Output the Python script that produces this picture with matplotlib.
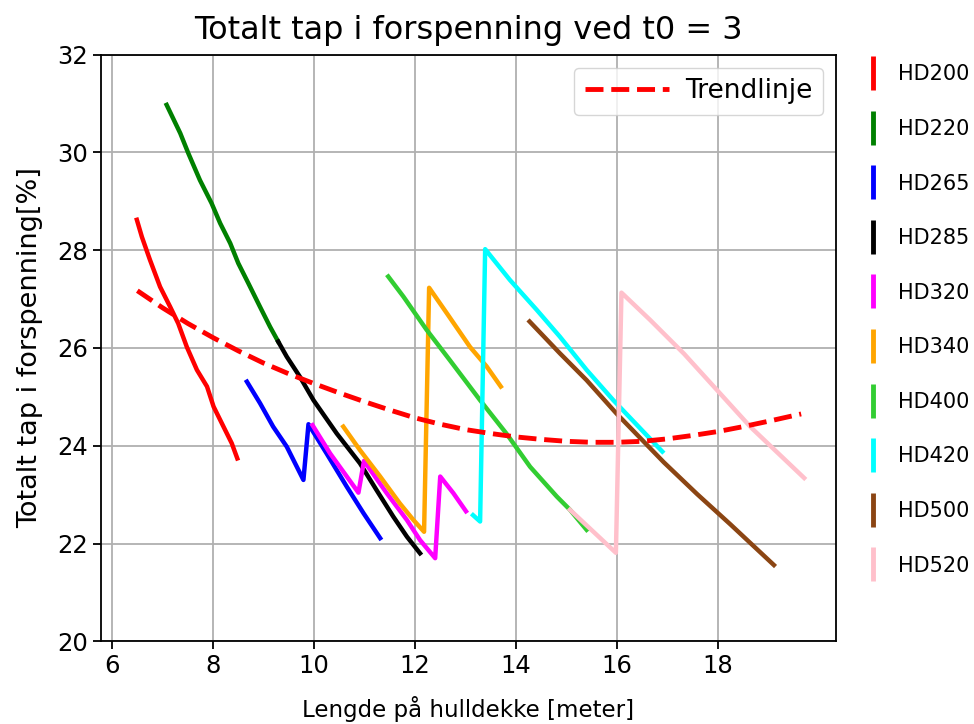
import matplotlib
matplotlib.use('Agg')
import matplotlib.pyplot as plt
from matplotlib.lines import Line2D


# lengths [m] and total prestress loss [%] per slab type
hd200_x = [6.49, 6.59, 6.75, 6.95, 7.15, 7.31, 7.48, 7.68, 7.88, 8.01, 8.24, 8.37, 8.48]
hd200_y = [28.62, 28.27, 27.80, 27.25, 26.84, 26.50, 26.02, 25.55, 25.21, 24.80, 24.32, 24.05, 23.74]

hd220_x = [7.08, 7.35, 7.51, 7.74, 7.97, 8.14, 8.34, 8.50, 8.70, 8.93, 9.13, 9.29]
hd220_y = [30.97, 30.39, 29.98, 29.43, 28.96, 28.55, 28.14, 27.73, 27.32, 26.84, 26.43, 26.13]

hd265_x = [8.67, 8.93, 9.19, 9.46, 9.79, 9.89, 10.25, 10.65, 10.98, 11.31]
hd265_y = [25.31, 24.87, 24.39, 23.98, 23.30, 24.44, 23.84, 23.16, 22.62, 22.11]

hd285_x = [9.29, 9.46, 9.72, 9.99, 10.45, 10.91, 11.24, 11.57, 11.84, 12.10]
hd285_y = [26.13, 25.82, 25.41, 24.93, 24.25, 23.64, 23.09, 22.55, 22.14, 21.80]

hd320_x = [9.97, 10.32, 10.88, 10.99, 11.44, 11.84, 12.10, 12.40, 12.50, 12.76, 13.01]
hd320_y = [24.42, 23.84, 23.04, 23.69, 23.03, 22.48, 22.07, 21.70, 23.37, 23.03, 22.66]

hd340_x = [10.58, 10.91, 11.31, 11.70, 11.97, 12.18, 12.28, 12.63, 13.09, 13.42, 13.70]
hd340_y = [24.39, 23.91, 23.37, 22.82, 22.48, 22.24, 27.23, 26.71, 26.02, 25.62, 25.21]

hd400_x = [11.47, 11.77, 12.23, 12.69, 13.29, 13.81, 14.28, 14.81, 15.07, 15.40]
hd400_y = [27.46, 27.05, 26.37, 25.75, 24.93, 24.25, 23.57, 22.96, 22.69, 22.28]

hd420_x = [13.15, 13.29, 13.39, 13.88, 14.41, 14.87, 15.40, 15.93, 16.90]
hd420_y = [22.58, 22.45, 28.02, 27.39, 26.78, 26.23, 25.55, 24.93, 23.88]

hd500_x = [14.27, 14.87, 15.40, 15.99, 16.93, 17.59, 18.25, 19.11]
hd500_y = [26.54, 25.89, 25.34, 24.66, 23.66, 23.01, 22.39, 21.56]

hd520_x = [15.07, 15.98, 16.09, 16.66, 17.33, 17.99, 18.65, 19.71]
hd520_y = [22.69, 21.81, 27.13, 26.57, 25.88, 25.13, 24.38, 23.34]

# trend line over all slabs
trend_x = [6.5, 7.0, 7.5, 8.0, 8.5, 9.0, 9.5, 10.0, 10.5, 11.0, 11.5, 12.0, 12.5, 13.0,
           13.5, 14.0, 14.5, 15.0, 15.5, 16.0, 16.5, 17.0, 17.5, 18.0, 18.5, 19.0, 19.65]
trend_y = [27.17, 26.82, 26.50, 26.21, 25.94, 25.69, 25.47, 25.27, 25.08, 24.90, 24.73, 24.57, 24.44, 24.33,
           24.25, 24.18, 24.13, 24.09, 24.07, 24.07, 24.09, 24.14, 24.21, 24.29, 24.39, 24.50, 24.65]

labels = ['HD200', 'HD220', 'HD265', 'HD285', 'HD320', 'HD340', 'HD400', 'HD420', 'HD500', 'HD520']
colors = ['red', 'green', 'blue', 'black', 'magenta', 'orange', 'limegreen', 'cyan', 'saddlebrown', 'pink']
series = [(hd200_x, hd200_y), (hd220_x, hd220_y), (hd265_x, hd265_y), (hd285_x, hd285_y),
          (hd320_x, hd320_y), (hd340_x, hd340_y), (hd400_x, hd400_y), (hd420_x, hd420_y),
          (hd500_x, hd500_y), (hd520_x, hd520_y)]


def main():
    fig = plt.figure(figsize=(9.74, 7.24), dpi=100)
    ax = fig.add_axes([0.1037, 0.1142, 0.7546, 0.8105])

    for (x, y), c in zip(series, colors):
        ax.plot(x, y, color=c, linewidth=3.2)

    trend, = ax.plot(trend_x, trend_y, color='red', linestyle='--', linewidth=3.5, label='Trendlinje')

    ax.set_xlim(5.78, 20.34)
    ax.set_ylim(20, 32)
    ax.set_xticks([6, 8, 10, 12, 14, 16, 18])
    ax.grid(True, color='#b0b0b0', linewidth=1.3)
    ax.set_axisbelow(True)
    ax.tick_params(labelsize=17.5, width=1.3, length=5.7)
    for s in ax.spines.values():
        s.set_linewidth(1.3)

    ax.set_title('Totalt tap i forspenning ved t0 = 3', fontsize=23, pad=11)
    ax.set_xlabel('Lengde på hulldekke [meter]', fontsize=16.5, labelpad=13)
    ax.set_ylabel('Totalt tap i forspenning[%]', fontsize=19.5, labelpad=10)

    ax.legend(handles=[trend], loc='upper right', fontsize=19, handlelength=3.2,
              handletextpad=0.6)

    handles = [Line2D([], [], color=c, marker='|', linestyle='None', markersize=24,
                      markeredgewidth=3.5) for c in colors]
    fig.legend(handles, labels, loc='upper left', bbox_to_anchor=(0.856, 0.937),
               frameon=False, fontsize=15, labelspacing=1.66, handletextpad=0.2)

    plt.savefig('out.png', dpi=100)


if __name__ == '__main__':
    main()
